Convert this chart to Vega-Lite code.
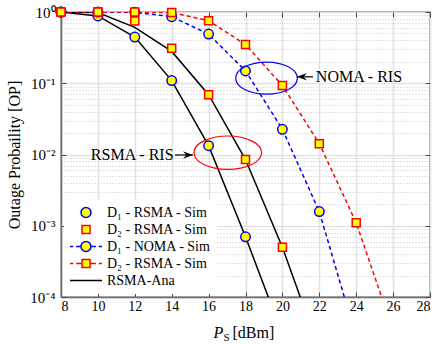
{
  "$schema": "https://vega.github.io/schema/vega-lite/v6.json",
  "width": 369,
  "height": 285,
  "autosize": {"type": "none"},
  "padding": {"left": 61, "top": 12, "right": 6, "bottom": 48},
  "background": "white",
  "config": {
    "view": {"stroke": "#4a4a4a", "strokeWidth": 1.3},
    "font": "Liberation Serif",
    "axis": {"labelFont": "Liberation Serif", "titleFont": "Liberation Serif", "labelColor": "black", "titleColor": "black", "titleFontWeight": "normal", "labelFontSize": 14, "titleFontSize": 16},
    "legend": {"orient": "none", "legendX": 3, "legendY": 188, "fillColor": "white", "strokeColor": "white", "padding": 5, "labelFont": "Liberation Serif", "labelFontSize": 14, "labelColor": "black", "labelOffset": 4, "symbolSize": 1024, "symbolStrokeWidth": 1.5, "clipHeight": 15, "rowPadding": 2}
  },
  "datasets": {
    "curves": [
      {"s": "a1", "x": 8, "y": 1.0}, {"s": "a1", "x": 10, "y": 0.88}, {"s": "a1", "x": 12, "y": 0.445}, {"s": "a1", "x": 14, "y": 0.109}, {"s": "a1", "x": 16, "y": 0.0133}, {"s": "a1", "x": 18, "y": 0.0007}, {"s": "a1", "x": 20, "y": 0.00003},
      {"s": "a2", "x": 8, "y": 1.0}, {"s": "a2", "x": 10, "y": 0.98}, {"s": "a2", "x": 12, "y": 0.61}, {"s": "a2", "x": 14, "y": 0.28}, {"s": "a2", "x": 16, "y": 0.069}, {"s": "a2", "x": 18, "y": 0.0085}, {"s": "a2", "x": 20, "y": 0.0005}, {"s": "a2", "x": 22, "y": 0.000018},
      {"s": "n1", "x": 8, "y": 1.0}, {"s": "n1", "x": 10, "y": 1.0}, {"s": "n1", "x": 12, "y": 0.99}, {"s": "n1", "x": 14, "y": 0.86}, {"s": "n1", "x": 16, "y": 0.49}, {"s": "n1", "x": 18, "y": 0.149}, {"s": "n1", "x": 20, "y": 0.0226}, {"s": "n1", "x": 22, "y": 0.00158}, {"s": "n1", "x": 24, "y": 0.000027},
      {"s": "n2", "x": 8, "y": 1.0}, {"s": "n2", "x": 10, "y": 1.0}, {"s": "n2", "x": 12, "y": 1.0}, {"s": "n2", "x": 14, "y": 0.985}, {"s": "n2", "x": 16, "y": 0.755}, {"s": "n2", "x": 18, "y": 0.35}, {"s": "n2", "x": 20, "y": 0.093}, {"s": "n2", "x": 22, "y": 0.0142}, {"s": "n2", "x": 24, "y": 0.0011}, {"s": "n2", "x": 26, "y": 0.000034}
    ],
    "markers": [
      {"s": "r1", "x": 8, "y": 1.0}, {"s": "r1", "x": 10, "y": 0.88}, {"s": "r1", "x": 12, "y": 0.445}, {"s": "r1", "x": 14, "y": 0.109}, {"s": "r1", "x": 16, "y": 0.0133}, {"s": "r1", "x": 18, "y": 0.0007},
      {"s": "r2", "x": 8, "y": 1.0}, {"s": "r2", "x": 10, "y": 1.0}, {"s": "r2", "x": 12, "y": 0.75}, {"s": "r2", "x": 14, "y": 0.31}, {"s": "r2", "x": 16, "y": 0.069}, {"s": "r2", "x": 18, "y": 0.0085}, {"s": "r2", "x": 20, "y": 0.0005},
      {"s": "n1", "x": 8, "y": 1.0}, {"s": "n1", "x": 10, "y": 1.0}, {"s": "n1", "x": 12, "y": 0.99}, {"s": "n1", "x": 14, "y": 0.86}, {"s": "n1", "x": 16, "y": 0.49}, {"s": "n1", "x": 18, "y": 0.149}, {"s": "n1", "x": 20, "y": 0.0226}, {"s": "n1", "x": 22, "y": 0.00158},
      {"s": "n2", "x": 8, "y": 1.0}, {"s": "n2", "x": 10, "y": 1.0}, {"s": "n2", "x": 12, "y": 1.0}, {"s": "n2", "x": 14, "y": 0.985}, {"s": "n2", "x": 16, "y": 0.755}, {"s": "n2", "x": 18, "y": 0.35}, {"s": "n2", "x": 20, "y": 0.093}, {"s": "n2", "x": 22, "y": 0.0142}, {"s": "n2", "x": 24, "y": 0.0011}
    ],
    "ellipses": [
      {"e": "noma", "x": 19.14, "y": 0.118},
      {"e": "rsma", "x": 17.04, "y": 0.0106}
    ],
    "arrows": [
      {"a": "noma", "x": 20.79, "x2": 21.66, "y": 0.123},
      {"a": "rsma", "x": 15.15, "x2": 14.18, "y": 0.00984}
    ],
    "notes": [
      {"t": "NOMA - RIS", "x": 24.15, "y": 0.123},
      {"t": "RSMA - RIS", "x": 11.86, "y": 0.00984}
    ],
    "legendKeys": [{"k": "r1"}, {"k": "r2"}, {"k": "n1"}, {"k": "n2"}, {"k": "a"}]
  },
  "layer": [
    {
      "data": {"name": "markers"},
      "transform": [{"filter": "false"}],
      "mark": {"type": "rule"},
      "encoding": {
        "y": {"field": "y", "type": "quantitative", "scale": {"type": "log", "domain": [0.0001, 1], "nice": false},
          "axis": {"orient": "left", "values": [0.0002, 0.0003, 0.0004, 0.0005, 0.0006, 0.0007, 0.0008, 0.0009, 0.002, 0.003, 0.004, 0.005, 0.006, 0.007, 0.008, 0.009, 0.02, 0.03, 0.04, 0.05, 0.06, 0.07, 0.08, 0.09, 0.2, 0.3, 0.4, 0.5, 0.6, 0.7, 0.8, 0.9], "labels": false, "ticks": false, "domain": false, "title": null, "grid": true, "gridColor": "#c8c8c8", "gridDash": [1, 2], "gridWidth": 1}}
      }
    },
    {
      "data": {"name": "curves"},
      "transform": [{"filter": "datum.s === 'a1' || datum.s === 'a2'"}],
      "mark": {"type": "line", "color": "black", "strokeWidth": 1.5, "clip": true},
      "encoding": {
        "x": {"field": "x", "type": "quantitative", "scale": {"domain": [8, 28], "nice": false, "zero": false},
          "axis": {"orient": "bottom", "values": [8, 10, 12, 14, 16, 18, 20, 22, 24, 26, 28], "grid": true, "gridColor": "#e2e2e2", "gridWidth": 1.5, "domainColor": "#6e6e6e", "domainWidth": 1.5, "tickColor": "#4a4a4a", "tickSize": -5, "labelPadding": 7, "title": null}},
        "y": {"field": "y", "type": "quantitative", "scale": {"type": "log", "domain": [0.0001, 1], "nice": false},
          "axis": {"orient": "left", "values": [0.0001, 0.001, 0.01, 0.1, 1], "grid": true, "gridColor": "#e2e2e2", "gridWidth": 1.5, "domainColor": "#6e6e6e", "domainWidth": 1.5, "tickColor": "#4a4a4a", "tickSize": -5, "labelPadding": 11, "labelFontSize": 15, "labelExpr": "datum.value > 0.5 ? '10⁰' : datum.value > 0.05 ? '10⁻¹' : datum.value > 0.005 ? '10⁻²' : datum.value > 0.0005 ? '10⁻³' : '10⁻⁴'", "title": "Outage Probaility [OP]", "titleFontSize": 16, "titlePadding": 7}},
        "detail": {"field": "s"}
      }
    },
    {
      "data": {"name": "curves"},
      "transform": [{"filter": "datum.s === 'n1'"}],
      "mark": {"type": "line", "color": "#0000ff", "strokeWidth": 1.5, "strokeDash": [4, 3], "clip": true},
      "encoding": {
        "x": {"field": "x", "type": "quantitative", "scale": {"domain": [8, 28], "nice": false, "zero": false}, "axis": null},
        "y": {"field": "y", "type": "quantitative", "scale": {"type": "log", "domain": [0.0001, 1], "nice": false}, "axis": null}
      }
    },
    {
      "data": {"name": "curves"},
      "transform": [{"filter": "datum.s === 'n2'"}],
      "mark": {"type": "line", "color": "#ff0000", "strokeWidth": 1.5, "strokeDash": [4, 3], "clip": true},
      "encoding": {
        "x": {"field": "x", "type": "quantitative", "scale": {"domain": [8, 28], "nice": false, "zero": false}, "axis": null},
        "y": {"field": "y", "type": "quantitative", "scale": {"type": "log", "domain": [0.0001, 1], "nice": false}, "axis": null}
      }
    },
    {
      "data": {"name": "markers"},
      "transform": [{"filter": "datum.s === 'r1' || datum.s === 'n1'"}],
      "mark": {"type": "point", "shape": "circle", "filled": true, "fill": "#ffff00", "stroke": "#0000ff", "strokeWidth": 1.5, "size": 90, "opacity": 1},
      "encoding": {
        "x": {"field": "x", "type": "quantitative", "scale": {"domain": [8, 28], "nice": false, "zero": false},
          "axis": {"orient": "top", "values": [8, 10, 12, 14, 16, 18, 20, 22, 24, 26, 28], "labels": false, "domain": false, "grid": false, "tickColor": "#4a4a4a", "tickSize": -5, "title": null}},
        "y": {"field": "y", "type": "quantitative", "scale": {"type": "log", "domain": [0.0001, 1], "nice": false},
          "axis": {"orient": "right", "values": [0.0001, 0.001, 0.01, 0.1, 1], "labels": false, "domain": false, "grid": false, "tickColor": "#4a4a4a", "tickSize": -5, "title": null}}
      }
    },
    {
      "data": {"name": "markers"},
      "transform": [{"filter": "datum.s === 'r2' || datum.s === 'n2'"}],
      "mark": {"type": "point", "shape": "square", "filled": true, "fill": "#ffff00", "stroke": "#ff0000", "strokeWidth": 1.5, "size": 64, "opacity": 1},
      "encoding": {
        "x": {"field": "x", "type": "quantitative", "scale": {"domain": [8, 28], "nice": false, "zero": false}, "axis": null},
        "y": {"field": "y", "type": "quantitative", "scale": {"type": "log", "domain": [0.0001, 1], "nice": false}, "axis": null}
      }
    },
    {
      "data": {"name": "ellipses"},
      "transform": [{"filter": "datum.e === 'noma'"}],
      "mark": {"type": "point", "shape": "M -1 0 A 1 0.52 0 1 1 1 0 A 1 0.52 0 1 1 -1 0 Z", "size": 3795, "filled": false, "stroke": "#0000ff", "strokeWidth": 1.2, "opacity": 1},
      "encoding": {
        "x": {"field": "x", "type": "quantitative", "scale": {"domain": [8, 28], "nice": false, "zero": false}, "axis": null},
        "y": {"field": "y", "type": "quantitative", "scale": {"type": "log", "domain": [0.0001, 1], "nice": false}, "axis": null}
      }
    },
    {
      "data": {"name": "ellipses"},
      "transform": [{"filter": "datum.e === 'rsma'"}],
      "mark": {"type": "point", "shape": "M -1 0 A 1 0.494 0 1 1 1 0 A 1 0.494 0 1 1 -1 0 Z", "size": 4570, "filled": false, "stroke": "#ff0000", "strokeWidth": 1.2, "opacity": 1},
      "encoding": {
        "x": {"field": "x", "type": "quantitative", "scale": {"domain": [8, 28], "nice": false, "zero": false}, "axis": null},
        "y": {"field": "y", "type": "quantitative", "scale": {"type": "log", "domain": [0.0001, 1], "nice": false}, "axis": null}
      }
    },
    {
      "data": {"name": "arrows"},
      "mark": {"type": "rule", "color": "black", "strokeWidth": 1.2},
      "encoding": {
        "x": {"field": "x", "type": "quantitative", "scale": {"domain": [8, 28], "nice": false, "zero": false}, "axis": null},
        "x2": {"field": "x2"},
        "y": {"field": "y", "type": "quantitative", "scale": {"type": "log", "domain": [0.0001, 1], "nice": false}, "axis": null}
      }
    },
    {
      "data": {"name": "arrows"},
      "transform": [{"filter": "datum.a === 'noma'"}],
      "mark": {"type": "point", "shape": "M 0 0 L 2 -0.75 L 1.3 0 L 2 0.75 Z", "size": 100, "filled": true, "color": "black", "opacity": 1},
      "encoding": {
        "x": {"field": "x", "type": "quantitative", "scale": {"domain": [8, 28], "nice": false, "zero": false}, "axis": null},
        "y": {"field": "y", "type": "quantitative", "scale": {"type": "log", "domain": [0.0001, 1], "nice": false}, "axis": null}
      }
    },
    {
      "data": {"name": "arrows"},
      "transform": [{"filter": "datum.a === 'rsma'"}],
      "mark": {"type": "point", "shape": "M 0 0 L -2 -0.75 L -1.3 0 L -2 0.75 Z", "size": 100, "filled": true, "color": "black", "opacity": 1},
      "encoding": {
        "x": {"field": "x", "type": "quantitative", "scale": {"domain": [8, 28], "nice": false, "zero": false}, "axis": null},
        "y": {"field": "y", "type": "quantitative", "scale": {"type": "log", "domain": [0.0001, 1], "nice": false}, "axis": null}
      }
    },
    {
      "data": {"name": "notes"},
      "mark": {"type": "text", "font": "Liberation Serif", "fontSize": 16, "color": "black", "align": "center", "baseline": "middle"},
      "encoding": {
        "x": {"field": "x", "type": "quantitative", "scale": {"domain": [8, 28], "nice": false, "zero": false}, "axis": null},
        "y": {"field": "y", "type": "quantitative", "scale": {"type": "log", "domain": [0.0001, 1], "nice": false}, "axis": null},
        "text": {"field": "t"}
      }
    },
    {
      "data": {"name": "legendKeys"},
      "transform": [{"filter": "false"}],
      "mark": {"type": "point", "filled": true, "size": 1024, "strokeWidth": 1.5, "opacity": 1},
      "encoding": {
        "shape": {"field": "k", "type": "nominal",
          "scale": {"domain": ["r1", "r2", "n1", "n2", "a"], "range": [
            "M -0.3125 0 A 0.3125 0.3125 0 1 1 0.3125 0 A 0.3125 0.3125 0 1 1 -0.3125 0 Z",
            "M -0.25 -0.25 L 0.25 -0.25 L 0.25 0.25 L -0.25 0.25 Z",
            "M -1 0 L -0.8 0 M -0.62 0 L -0.32 0 M 0.32 0 L 0.62 0 M 0.8 0 L 1 0 M -0.3125 0 A 0.3125 0.3125 0 1 1 0.3125 0 A 0.3125 0.3125 0 1 1 -0.3125 0 Z",
            "M -1 0 L -0.8 0 M -0.62 0 L -0.3 0 M 0.3 0 L 0.62 0 M 0.8 0 L 1 0 M -0.25 -0.25 L 0.25 -0.25 L 0.25 0.25 L -0.25 0.25 Z",
            "M -1 0 L 1 0"]},
          "legend": {"title": null, "labelExpr": "{'r1': 'D₁ - RSMA - Sim', 'r2': 'D₂ - RSMA - Sim', 'n1': 'D₁ - NOMA - Sim', 'n2': 'D₂ - RSMA - Sim', 'a': 'RSMA-Ana'}[datum.value]"}},
        "fill": {"field": "k", "type": "nominal",
          "scale": {"domain": ["r1", "r2", "n1", "n2", "a"], "range": ["#ffff00", "#ffff00", "#ffff00", "#ffff00", "transparent"]},
          "legend": {"title": null, "labelExpr": "{'r1': 'D₁ - RSMA - Sim', 'r2': 'D₂ - RSMA - Sim', 'n1': 'D₁ - NOMA - Sim', 'n2': 'D₂ - RSMA - Sim', 'a': 'RSMA-Ana'}[datum.value]"}},
        "stroke": {"field": "k", "type": "nominal",
          "scale": {"domain": ["r1", "r2", "n1", "n2", "a"], "range": ["#0000ff", "#ff0000", "#0000ff", "#ff0000", "#000000"]},
          "legend": {"title": null, "labelExpr": "{'r1': 'D₁ - RSMA - Sim', 'r2': 'D₂ - RSMA - Sim', 'n1': 'D₁ - NOMA - Sim', 'n2': 'D₂ - RSMA - Sim', 'a': 'RSMA-Ana'}[datum.value]"}}
      }
    },
    {
      "data": {"name": "markers"},
      "transform": [{"filter": "false"}],
      "mark": {"type": "point"},
      "encoding": {
        "x": {"field": "x", "type": "quantitative", "scale": {"domain": [8, 28], "nice": false, "zero": false},
          "axis": {"orient": "bottom", "labels": false, "ticks": false, "domain": false, "grid": false, "title": "P", "titleFontStyle": "italic", "titleFontSize": 16, "titleX": 152, "titleY": 40, "titleAlign": "left", "titleBaseline": "alphabetic"}}
      }
    },
    {
      "data": {"name": "markers"},
      "transform": [{"filter": "false"}],
      "mark": {"type": "point"},
      "encoding": {
        "x": {"field": "x", "type": "quantitative", "scale": {"domain": [8, 28], "nice": false, "zero": false},
          "axis": {"orient": "bottom", "labels": false, "ticks": false, "domain": false, "grid": false, "title": "S", "titleFontSize": 11, "titleX": 162, "titleY": 43, "titleAlign": "left", "titleBaseline": "alphabetic"}}
      }
    },
    {
      "data": {"name": "markers"},
      "transform": [{"filter": "false"}],
      "mark": {"type": "point"},
      "encoding": {
        "x": {"field": "x", "type": "quantitative", "scale": {"domain": [8, 28], "nice": false, "zero": false},
          "axis": {"orient": "bottom", "labels": false, "ticks": false, "domain": false, "grid": false, "title": "[dBm]", "titleFontSize": 16, "titleX": 171, "titleY": 40, "titleAlign": "left", "titleBaseline": "alphabetic"}}
      }
    }
  ],
  "resolve": {"axis": {"x": "independent", "y": "independent"}}
}
